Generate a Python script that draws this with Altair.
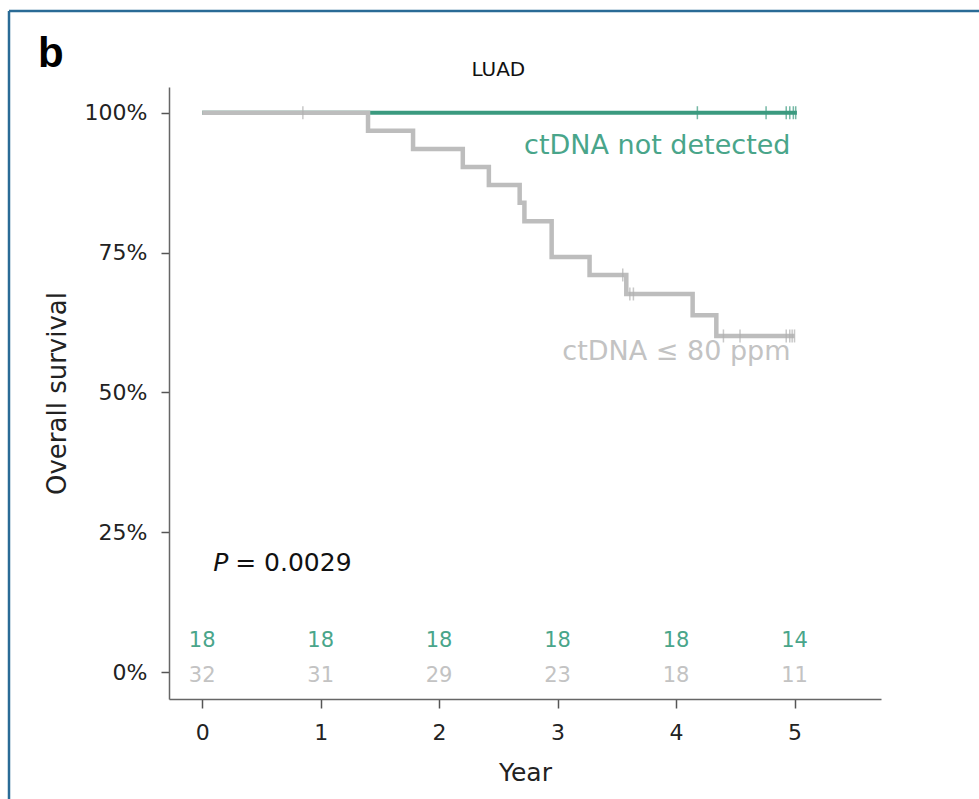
import altair as alt
import pandas as pd

FONT = "DejaVu Sans"
GREEN = "#3b9a7f"
GREEN_TXT = "#49a58a"
GREY = "#bdbdbd"
GREY_TXT = "#c3c3c3"

# Kaplan-Meier step curves (years, survival %)
grey_years = [0, 1.40, 1.78, 2.20, 2.42, 2.68, 2.72, 2.95, 3.27, 3.58, 4.14, 4.34, 5.00]
grey_surv = [100, 96.8, 93.5, 90.3, 87.1, 83.9, 80.6, 74.2, 71.0, 67.6, 63.8, 60.1, 60.1]
green_years = [0, 5.02]
green_surv = [100, 100]

# censoring marks
grey_cens_years = [0.85, 3.55, 3.61, 3.64, 4.40, 4.54, 4.93, 4.96, 4.98, 5.00]
grey_cens_surv = [100, 71.0, 67.6, 67.6, 60.1, 60.1, 60.1, 60.1, 60.1, 60.1]
green_cens_years = [4.18, 4.76, 4.93, 4.96, 4.99, 5.01]
green_cens_surv = [100, 100, 100, 100, 100, 100]

# numbers at risk
risk_years = [0, 1, 2, 3, 4, 5]
risk_green = [18, 18, 18, 18, 18, 14]
risk_grey = [32, 31, 29, 23, 18, 11]

x_ticks = [0, 1, 2, 3, 4, 5]
y_ticks = [0, 25, 50, 75, 100]

xs = alt.Scale(domain=[-0.28, 5.73], nice=False, zero=False)
ys = alt.Scale(domain=[-4.8, 104.6], nice=False, zero=False)

X = alt.X("t:Q", scale=xs, axis=alt.Axis(values=x_ticks, format="d", title="Year"))
Y = alt.Y("s:Q", scale=ys, axis=alt.Axis(values=y_ticks, labelExpr="datum.value + '%'",
                                         title="Overall survival"))


def df(t, s, **extra):
    d = {"t": t, "s": s}
    d.update(extra)
    return pd.DataFrame(d)


green_line = alt.Chart(df(green_years, green_surv)).mark_line(
    interpolate="step-after", color=GREEN, strokeWidth=4).encode(x=X, y=Y)
grey_line = alt.Chart(df(grey_years, grey_surv)).mark_line(
    interpolate="step-after", color=GREY, strokeWidth=4.5).encode(x=X, y=Y)
green_cens = alt.Chart(df(green_cens_years, green_cens_surv)).mark_tick(
    orient="vertical", color=GREEN, size=13, thickness=1.5).encode(x=X, y=Y)
grey_cens = alt.Chart(df(grey_cens_years, grey_cens_surv)).mark_tick(
    orient="vertical", color="#b0b0b0", size=13, thickness=1.5).encode(x=X, y=Y)

risk_g = alt.Chart(df(risk_years, [5.5] * 6, txt=[str(v) for v in risk_green])).mark_text(
    font=FONT, fontSize=21, color=GREEN_TXT, align="center", baseline="middle"
).encode(x=X, y=Y, text="txt:N")
risk_r = alt.Chart(df(risk_years, [-0.7] * 6, txt=[str(v) for v in risk_grey])).mark_text(
    font=FONT, fontSize=21, color=GREY_TXT, align="center", baseline="middle"
).encode(x=X, y=Y, text="txt:N")

lab_green = alt.Chart(df([4.966], [94.1], txt=["ctDNA not detected"])).mark_text(
    font=FONT, fontSize=27, color=GREEN_TXT, align="right", baseline="middle"
).encode(x=X, y=Y, text="txt:N")
lab_grey = alt.Chart(df([4.966], [57.2], txt=["ctDNA ≤ 80 ppm"])).mark_text(
    font=FONT, fontSize=27, color=GREY_TXT, align="right", baseline="middle"
).encode(x=X, y=Y, text="txt:N")

p_italic = alt.Chart(df([0.093], [19.5], txt=["P"])).mark_text(
    font=FONT, fontSize=25, fontStyle="italic", color="#111", align="left",
    baseline="middle"
).encode(x=X, y=Y, text="txt:N")
p_value = alt.Chart(df([0.093], [19.5], txt=["= 0.0029"])).mark_text(
    font=FONT, fontSize=25, color="#111", align="left", baseline="middle", dx=22
).encode(x=X, y=Y, text="txt:N")

title = alt.Chart(df([2.5], [107.7], txt=["LUAD"])).mark_text(
    font=FONT, fontSize=20, color="#111", align="center", baseline="middle"
).encode(x=X, y=Y, text="txt:N")

panel = alt.Chart().mark_text(
    font="Liberation Sans", fontSize=42, fontWeight="bold", color="#000",
    align="left", baseline="alphabetic"
).encode(x=alt.value(-131), y=alt.value(-20), text=alt.value("b"))

frame_top = alt.Chart().mark_rule(color="#2a6b96", strokeWidth=2.5).encode(
    x=alt.value(-160), x2=alt.value(820), y=alt.value(-76))
frame_left = alt.Chart().mark_rule(color="#2a6b96", strokeWidth=2.5).encode(
    x=alt.value(-160), y=alt.value(-76), y2=alt.value(720))

chart = alt.layer(
    green_line, grey_line, green_cens, grey_cens, risk_g, risk_r,
    lab_green, lab_grey, p_italic, p_value, title, panel, frame_top, frame_left
).properties(
    width=712, height=612,
    autosize=alt.AutoSizeParams(type="none"),
    padding={"left": 169, "top": 87, "right": 98, "bottom": 100},
    background="white",
).configure_view(
    stroke=None
).configure_axis(
    grid=False, labelFont=FONT, labelColor="#222", titleFont=FONT,
    titleFontWeight="normal", titleColor="#222", tickColor="#555",
    domainColor="#666", domainWidth=1.5, tickWidth=1.5
).configure_axisX(
    labelFontSize=22, titleFontSize=25, tickSize=9, labelPadding=14, titlePadding=17
).configure_axisY(
    labelFontSize=22, titleFontSize=26, tickSize=8, labelPadding=14, titlePadding=14
)

chart.save("out.html", embed_options={"renderer": "svg", "actions": False})
